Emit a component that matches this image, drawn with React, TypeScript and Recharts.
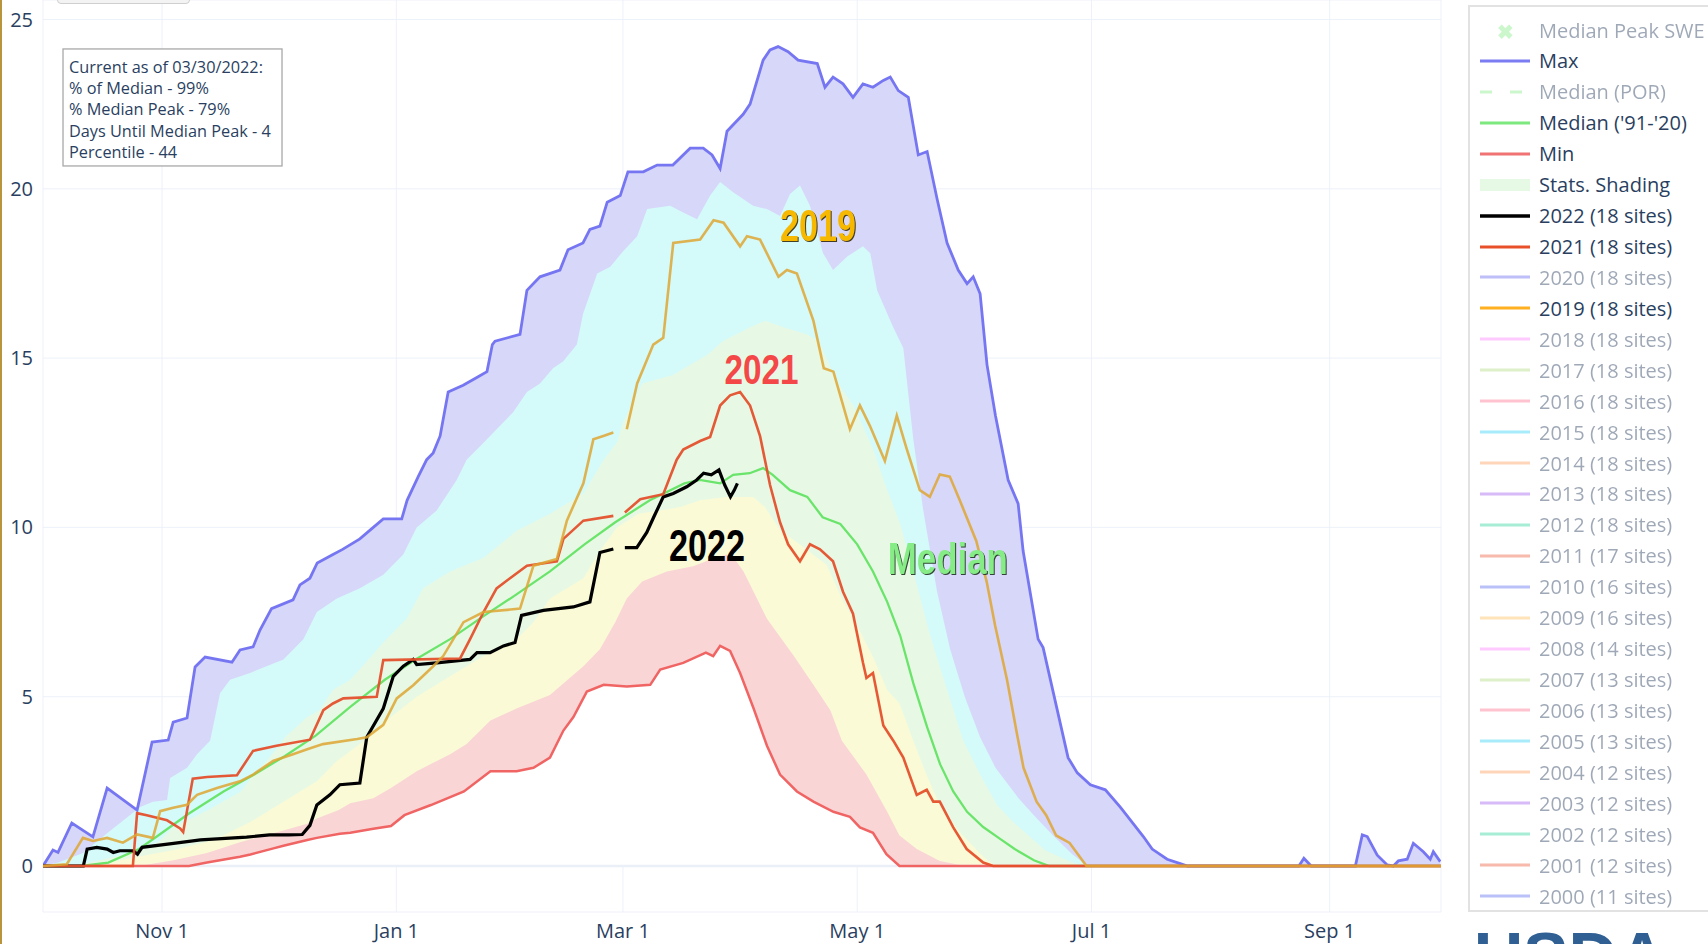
import React from 'react';
import {
  ComposedChart,
  Area,
  Line,
  XAxis,
  YAxis,
  CartesianGrid,
  ReferenceLine,
  ReferenceDot,
} from 'recharts';

// x = day of water year (Oct 1 = 0), y = SWE (in)
const tickDays = [31, 92, 151, 212, 273, 335];
const tickLabels = ['Nov 1', 'Jan 1', 'Mar 1', 'May 1', 'Jul 1', 'Sep 1'];
const yTicks = [0, 5, 10, 15, 20, 25];

const maxSwe = [
  [0, 0], [2.6, 0.47], [3.9, 0.4], [7.5, 1.27], [13, 0.86], [16.7, 2.3], [24.5, 1.65], [28.4, 3.66],
  [32.6, 3.72], [33.9, 4.25], [37.5, 4.37], [39.6, 5.88], [42.2, 6.17], [49.2, 6.02], [51.3, 6.38],
  [54.7, 6.47], [56.5, 6.97], [59.5, 7.6], [65.1, 7.86], [66.9, 8.3], [69.5, 8.5], [71.4, 8.95],
  [75.5, 9.2], [78, 9.35], [82.5, 9.66], [86, 10.0], [88.6, 10.25], [93.4, 10.25], [94.8, 10.8],
  [97.7, 11.5], [99.9, 12.0], [101.6, 12.2], [103.4, 12.7], [105.5, 14.0], [109.4, 14.2], [113.3, 14.45],
  [115.6, 14.6], [117, 15.4], [117.7, 15.5], [124.2, 15.7], [126, 17.0], [129.4, 17.4], [134.6, 17.6],
  [136.7, 18.2], [140.6, 18.4], [142.4, 18.8], [145, 18.9], [146.9, 19.6], [150.3, 19.8], [152.3, 20.5],
  [156.3, 20.5], [159.9, 20.7], [164, 20.7], [168.5, 21.2], [171.9, 21.2], [174.2, 21.0], [176.3, 20.6],
  [178.1, 21.7], [182.3, 22.2], [184.1, 22.5], [187.5, 23.8], [189.3, 24.1], [191.4, 24.2], [194, 24.05],
  [196.6, 23.8], [201.6, 23.7], [203.6, 23.0], [205.7, 23.3], [208.3, 23.1], [210.9, 22.7], [213.5, 23.1],
  [216.1, 23.0], [218.8, 23.2], [220.6, 23.3], [222.7, 22.9], [225.3, 22.7], [227.9, 21.0], [230.2, 21.1],
  [232.8, 19.7], [235.4, 18.4], [238.3, 17.6], [240.6, 17.2], [242.2, 17.4], [244, 16.9], [245.8, 14.8],
  [248, 13.3], [251.3, 11.4], [253.9, 10.7], [255.2, 9.3], [259.1, 6.7], [260.4, 6.45], [266.9, 3.2],
  [269.3, 2.75], [272.7, 2.4], [276.6, 2.25], [280.5, 1.74], [286.5, 0.87], [288.8, 0.5], [292.7, 0.2],
  [296.1, 0.07], [298, 0], [327, 0], [328.3, 0.23], [330.2, 0], [341.7, 0], [343.5, 0.92], [344.8, 0.87],
  [347.4, 0.32], [350, 0.03], [351.6, 0], [352.9, 0.15], [355.2, 0.2], [356.8, 0.67], [359.4, 0.42],
  [361.2, 0.2], [362, 0.42], [363.8, 0.13],
];

const pct90 = [
  [0, 0], [4, 0.1], [10.4, 0.38], [16.7, 0.97], [25.3, 1.74], [28.6, 1.9], [32.3, 1.95], [33.1, 2.6],
  [37.5, 2.9], [40.1, 3.3], [43.5, 3.7], [46.1, 5.1], [48.7, 5.5], [53.9, 5.7], [62.6, 6.1], [67.8, 6.7],
  [71.3, 7.5], [76.5, 7.9], [82.5, 8.2], [88.6, 8.6], [93.8, 9.2], [97.3, 10.0], [102.5, 10.5],
  [107.7, 11.4], [110.3, 12.0], [114.7, 12.5], [119, 13.0], [122.4, 13.4], [126, 14.0], [129.4, 14.25],
  [132.8, 14.7], [135.4, 14.9], [139, 15.4], [140.6, 16.3], [144.3, 17.5], [147.7, 17.7], [151, 18.15],
  [154.7, 18.6], [157.3, 19.4], [163.3, 19.5], [166.7, 19.3], [170.3, 19.1], [173.7, 19.8], [176.3, 20.2],
  [179.7, 19.9], [184.9, 19.5], [188.5, 19.4], [191.9, 19.2], [194.5, 19.85], [197.1, 20.1], [199.7, 19.5],
  [203.1, 18.1], [205.7, 17.6], [209.4, 18.0], [213.5, 18.3], [215.4, 18.1], [217.2, 17.0], [221.4, 15.9],
  [224, 15.3], [226.6, 12.6], [229.2, 10.5], [232.8, 8.1], [236.2, 6.4], [240, 5.0], [244, 3.8],
  [248, 2.9], [254, 2.0], [258, 1.5], [263, 0.9], [268, 0.35], [272, 0],
];

const pct70 = [
  [0, 0], [10, 0.05], [20, 0.3], [30, 0.7], [34, 1.15], [43, 1.65], [51.5, 2.2], [55, 2.7], [59, 3.2],
  [63, 3.8], [68.8, 4.4], [72, 4.6], [75.5, 5.2], [80, 5.5], [84, 6.0], [88.6, 6.6], [94.7, 7.3],
  [99, 8.2], [106, 8.7], [114.7, 9.1], [123.3, 9.9], [132, 10.4], [140.7, 11.0], [146, 12.0],
  [149.4, 12.5], [151, 13.1], [156, 14.25], [164, 14.5], [173, 15.1], [177, 15.5], [184, 15.9],
  [188, 16.1], [193, 15.9], [199, 15.7], [202, 15.5], [207, 14.25], [211, 13.6], [216, 12.35],
  [219.8, 11.1], [223.2, 10.1], [226.6, 8.7], [231, 6.8], [235.4, 5.2], [239.6, 3.7], [244, 2.7],
  [248.4, 1.8], [252.6, 1.3], [261, 0.46], [268, 0.1], [271, 0],
];

const pct30 = [
  [0, 0], [12, 0], [17, 0.1], [34, 0.47], [44.6, 0.77], [54, 1.3], [62.6, 1.9], [71.3, 2.5],
  [76.5, 3.1], [82.5, 3.6], [90.6, 4.4], [97.3, 5.0], [106, 5.6], [114.7, 6.2], [123.3, 6.7],
  [127.7, 7.2], [132, 7.9], [140.7, 8.5], [145, 9.3], [149.4, 10.0], [155, 10.4], [166, 10.6],
  [171, 10.8], [178, 10.9], [184.9, 10.9], [188, 10.6], [192, 9.9], [197, 9.5], [204, 8.9], [208, 7.9],
  [211, 7.3], [216, 6.2], [219.8, 5.2], [223, 4.8], [226.6, 3.7], [230, 2.7], [233.5, 1.8],
  [238.7, 1.0], [244.8, 0.27], [248, 0],
];

const pct10 = [
  [0, 0], [25, 0], [34, 0.17], [42.7, 0.38], [51.3, 0.7], [56, 0.85], [62.6, 1.05], [68.8, 1.25],
  [71.3, 1.4], [77, 1.65], [80, 1.85], [86, 2.0], [90.6, 2.3], [97.3, 2.8], [106, 3.3], [110.3, 3.6],
  [116.5, 4.3], [123.3, 4.65], [132, 5.05], [140.7, 5.9], [145, 6.4], [149, 7.2], [152, 7.9],
  [156, 8.4], [162.4, 8.7], [169.3, 8.85], [175, 9.1], [178, 9.2], [180.5, 9.0], [182.4, 8.7],
  [188.5, 7.3], [195.5, 6.2], [201.5, 5.2], [205, 4.6], [208, 3.7], [214.4, 2.7], [219.8, 1.6],
  [223, 0.9], [227.5, 0.5], [233.5, 0.15], [240, 0],
];

const minSwe = [
  [0, 0], [38, 0], [42.7, 0.1], [51.3, 0.27], [54, 0.34], [60, 0.52], [62.6, 0.6], [68.8, 0.77],
  [71.3, 0.83], [77.3, 0.95], [80, 0.98], [86, 1.1], [90.6, 1.18], [94.1, 1.5], [101, 1.8], [109.6, 2.2],
  [116.5, 2.8], [123.3, 2.8], [127.7, 2.9], [132, 3.2], [135.5, 4.0], [138.1, 4.4], [141.6, 5.15],
  [146, 5.35], [152, 5.3], [158.1, 5.35], [160.7, 5.8], [166.7, 6.0], [172.6, 6.3], [174.5, 6.2],
  [176.3, 6.5], [178.9, 6.35], [181.5, 5.7], [185, 4.66], [188.5, 3.55], [191.9, 2.7], [196.3, 2.2],
  [200.6, 1.9], [205.8, 1.6], [210.1, 1.45], [212.7, 1.14], [216.1, 0.98], [219.6, 0.35], [223, 0],
  [364, 0],
];

const medianSwe = [
  [0, 0], [10, 0], [17, 0.1], [25, 0.5], [30, 0.9], [38, 1.55], [47, 2.2], [55, 2.7], [63, 3.25],
  [71, 3.85], [80, 4.7], [89, 5.5], [97, 6.1], [106, 6.7], [115, 7.4], [123, 8.0], [132, 8.7],
  [141, 9.5], [149, 10.15], [158, 10.8], [167, 11.3], [171, 11.4], [176.3, 11.3], [179.7, 11.55],
  [184, 11.6], [187.5, 11.75], [190, 11.55], [194.5, 11.1], [199, 10.9], [203, 10.3], [207.6, 10.1],
  [212, 9.5], [216.1, 8.7], [219.8, 7.8], [223.2, 6.8], [226.6, 5.4], [230.2, 4.1], [233.6, 3.0],
  [237, 2.2], [240.6, 1.6], [244.8, 1.15], [249.2, 0.8], [253, 0.5], [258, 0.17], [262, 0], [364, 0],
];

const wy2022 = [
  [0, 0], [10.5, 0], [11.5, 0.5], [14, 0.55], [16.7, 0.5], [18.3, 0.4], [20, 0.45], [23.4, 0.45],
  [24.6, 0.35], [25.8, 0.55], [34, 0.67], [41, 0.77], [53, 0.85], [59, 0.92], [64, 0.92], [67.5, 0.93],
  [69.5, 1.2], [71.3, 1.8], [74.7, 2.1], [77.3, 2.4], [82.5, 2.45], [84.3, 3.8], [88.6, 4.65],
  [91.2, 5.6], [93.8, 5.9], [96.4, 6.1], [97.3, 5.95], [102.5, 6.0], [111.2, 6.1], [113, 6.3],
  [116.4, 6.3], [119.9, 6.5], [122.9, 6.6], [124.6, 7.4], [130.3, 7.55], [138.1, 7.65], [142.4, 7.8],
  [145, 9.26], [148.5, 9.36], [150, null], [151.5, 9.4], [154.6, 9.4], [157.2, 9.85], [159, 10.3],
  [161.5, 10.9], [164.1, 11.0], [167.6, 11.2], [170.2, 11.4], [172, 11.6], [174, 11.55], [176, 11.7],
  [177.5, 11.25], [179, 10.9], [180, 11.1], [180.8, 11.3],
];

const wy2021 = [
  [0, 0], [23.4, 0], [24.5, 1.56], [27, 1.5], [32.3, 1.35], [35.7, 1.11], [36.5, 1.0], [39, 2.58],
  [42.7, 2.63], [50.5, 2.68], [54.7, 3.4], [60.8, 3.55], [69.5, 3.73], [73, 4.6], [75.5, 4.8],
  [78.2, 4.95], [86.9, 5.0], [88.6, 6.08], [108.6, 6.13], [111.2, 6.7], [114.7, 7.5], [118.1, 8.2],
  [121.6, 8.5], [126, 8.87], [133.8, 9.0], [135.5, 9.66], [140.7, 10.2], [148.5, 10.34], [150, null],
  [151.5, 10.44], [155.5, 10.83], [161.5, 10.98], [165, 12.0], [166.7, 12.3], [171.1, 12.55],
  [173.7, 12.67], [176.3, 13.6], [178.9, 13.9], [181.5, 14.0], [184.1, 13.6], [186.7, 12.7],
  [189.3, 11.25], [191.9, 10.15], [194, 9.5], [197.1, 9.0], [199.7, 9.5], [202.3, 9.35], [205.7, 9.0],
  [208.3, 8.1], [210.9, 7.45], [213.5, 6.0], [214.4, 5.55], [216.1, 5.7], [218.8, 4.15], [221.4, 3.7],
  [224, 3.2], [227.5, 2.1], [230.1, 2.25], [231.8, 1.9], [233.5, 1.9], [237, 1.14], [240.5, 0.5],
  [244.8, 0.1], [247.4, 0], [364, 0],
];

const wy2019 = [
  [0, 0], [6.2, 0.05], [7.8, 0.35], [10.4, 0.83], [13, 0.74], [16.7, 0.83], [20.8, 0.69], [24.5, 0.93],
  [28.6, 0.83], [30.5, 1.62], [33.9, 1.72], [37.5, 1.81], [40.1, 2.1], [45.3, 2.3], [51.3, 2.5],
  [54.7, 2.7], [59.9, 3.1], [65.1, 3.3], [68.8, 3.45], [72.9, 3.6], [81.8, 3.75], [84.3, 3.8],
  [88.6, 4.17], [92.1, 4.95], [96.4, 5.34], [101.6, 5.9], [104.2, 6.2], [109.5, 7.2], [114.7, 7.5],
  [124.2, 7.6], [127.7, 8.87], [133.8, 9.07], [136.4, 10.2], [140.7, 11.3], [143.3, 12.6], [145.9, 12.7],
  [148.5, 12.8], [150, null], [152, 12.9], [154.7, 14.25], [158.9, 15.4], [161.5, 15.6], [164.1, 18.4],
  [171.1, 18.5], [174.6, 19.07], [177.2, 19.0], [181.5, 18.3], [183.3, 18.6], [186.7, 18.5],
  [191.5, 17.4], [193.7, 17.6], [196.3, 17.5], [200.6, 16.1], [203.3, 14.7], [205.8, 14.6],
  [210.1, 12.9], [212.7, 13.6], [215.3, 13.0], [219.2, 11.96], [222.3, 13.3], [224.8, 12.35],
  [228.3, 11.1], [230.9, 10.9], [233.5, 11.56], [236.1, 11.5], [238.7, 10.8], [243, 9.6], [245.7, 8.4],
  [247.9, 7.1], [251, 5.5], [253.6, 3.9], [255.3, 2.9], [258.7, 1.9], [261.2, 1.5], [263.8, 0.9],
  [267.3, 0.68], [271.7, 0], [364, 0],
];

const infoLines = [
  'Current as of 03/30/2022:',
  '% of Median - 99%',
  '% Median Peak - 79%',
  'Days Until Median Peak - 4',
  'Percentile - 44',
];

// legend
const legendLabels = ['Median Peak SWE', 'Max', 'Median (POR)', "Median ('91-'20)", 'Min', 'Stats. Shading'];
const legendKinds = ['marker', 'line', 'dash', 'line', 'line', 'rect'];
const legendColors = ['#90ee90', '#7b7bf2', '#90ee90', '#7de87d', '#f07272', '#e6f9e4'];
const legendActive = [false, true, false, true, true, true];
const legendYears = [2022, 2021, 2020, 2019, 2018, 2017, 2016, 2015, 2014, 2013, 2012, 2011, 2010, 2009, 2008, 2007, 2006, 2005, 2004, 2003, 2002, 2001, 2000];
const legendSites = [18, 18, 18, 18, 18, 18, 18, 18, 18, 18, 18, 17, 16, 16, 14, 13, 13, 13, 12, 12, 12, 12, 11];
const legendYearColors = ['#000000', '#e8502a', '#7070f0', '#ffb020', '#ff8cff', '#b4e08c', '#ff7c98', '#40d4f4', '#ffa468', '#a868f0', '#3ed8a4', '#f06848', '#6878f0', '#ffc468', '#ff8cff', '#b4e08c', '#ff7c98', '#40d4f4', '#ffa468', '#a868f0', '#3ed8a4', '#f06848', '#6878f0'];
const legendYearActive = [true, true, false, true, false, false, false, false, false, false, false, false, false, false, false, false, false, false, false, false, false, false, false];

const toPts = (arr: (number | null)[][]) => arr.map(([d, v]) => ({ d, v }));

const bands = [
  { name: 'max', values: maxSwe, fill: '#d7d7f9' },
  { name: 'p90', values: pct90, fill: '#d5fafa' },
  { name: 'p70', values: pct70, fill: '#e7f9e5' },
  { name: 'p30', values: pct30, fill: '#fafad6' },
  { name: 'p10', values: pct10, fill: '#f9d5d5' },
  { name: 'min', values: minSwe, fill: '#ffffff' },
];

const TXT = '#2a3f5f';
const FONT = '"Open Sans", sans-serif';
const BOLD = '"Liberation Sans", Arial, sans-serif';

// plotly-style big labels; squeezed to the narrow look of the original
const annotation = (text: string, fill: string, size: number, width: number, shadow?: string) => (p: any) => (
  <text
    x={p.cx}
    y={p.cy}
    textAnchor="middle"
    dominantBaseline="central"
    fontFamily={BOLD}
    fontWeight="bold"
    fontSize={size}
    fill={fill}
    textLength={width}
    lengthAdjust="spacingAndGlyphs"
    style={shadow ? { filter: `drop-shadow(1.5px 1.5px 0.6px ${shadow})` } : undefined}
  >
    {text}
  </text>
);

const infoBox = (p: any) => (
  <g>
    <rect x={p.cx} y={p.cy} width={219} height={117} fill="#fff" stroke="#a8a8a8" strokeWidth={1.3} />
    {infoLines.map((t, i) => (
      <text key={i} x={p.cx + 6} y={p.cy + 18 + i * 21.2} dominantBaseline="central" fontFamily={FONT} fontSize={16.3} fill={TXT}>
        {t}
      </text>
    ))}
  </g>
);

const LegendSymbol = ({ kind, color, width }: { kind: string; color: string; width: number }) => (
  <svg width={50} height={20} style={{ display: 'block' }}>
    {kind === 'marker' && (
      <text x={25} y={11} textAnchor="middle" dominantBaseline="central" fontSize={20} fontWeight="bold" fill={color}>✖</text>
    )}
    {kind === 'line' && <line x1={0} x2={50} y1={10} y2={10} stroke={color} strokeWidth={width} />}
    {kind === 'dash' && <line x1={0} x2={50} y1={10} y2={10} stroke={color} strokeWidth={3} strokeDasharray="12 18" />}
    {kind === 'rect' && <rect x={0} y={4} width={50} height={12} fill={color} />}
  </svg>
);

const LegendRow = ({ i, kind, color, label, active, width }: any) => (
  <div
    style={{
      position: 'absolute',
      left: 0,
      top: 7.5 + i * 30.93,
      height: 31,
      width: 300,
      display: 'flex',
      alignItems: 'center',
      opacity: active ? 1 : 0.45,
    }}
  >
    <div style={{ marginLeft: 10, width: 50 }}>
      <LegendSymbol kind={kind} color={color} width={width} />
    </div>
    <span style={{ marginLeft: 9, fontFamily: FONT, fontSize: 20, color: TXT, whiteSpace: 'nowrap' }}>{label}</span>
  </div>
);

export default function App() {
  const yearLines = [
    { data: wy2022, color: '#000000', width: 3.2, opacity: 1 },
    { data: wy2021, color: '#e4502c', width: 2.6, opacity: 0.95 },
    { data: wy2019, color: '#dea632', width: 2.6, opacity: 0.85 },
  ];
  return (
    <div
      style={{
        position: 'absolute',
        left: 0,
        top: 0,
        width: 1708,
        height: 944,
        overflow: 'hidden',
        background: '#fff',
        fontFamily: FONT,
      }}
    >
      <ComposedChart width={1708} height={944} margin={{ top: 0, right: 267, bottom: 0, left: 0 }}>
        <XAxis
          type="number"
          dataKey="d"
          domain={[0, 364]}
          ticks={tickDays}
          tickFormatter={(d: number) => tickLabels[tickDays.indexOf(d)]}
          allowDataOverflow
          axisLine={false}
          tickLine={false}
          tickSize={0}
          tickMargin={12}
          height={32}
          tick={{ fontSize: 20, fill: TXT, fontFamily: FONT }}
        />
        <YAxis
          type="number"
          domain={[-1.359, 25.576]}
          ticks={yTicks}
          allowDataOverflow
          axisLine={false}
          tickLine={false}
          tickSize={0}
          tickMargin={10}
          width={43}
          tick={{ fontSize: 20, fill: TXT, fontFamily: FONT }}
        />
        {bands.map((b) => (
          <Area
            key={b.name}
            data={toPts(b.values)}
            dataKey="v"
            type="linear"
            stroke="none"
            fill={b.fill}
            fillOpacity={1}
            isAnimationActive={false}
          />
        ))}
        <CartesianGrid stroke="#EBF0F8" strokeWidth={1} strokeOpacity={0.9} />
        <ReferenceLine y={0} stroke="#EBF0F8" strokeWidth={2.5} />

        <Line data={toPts(maxSwe)} dataKey="v" type="linear" stroke="#7676f2" strokeWidth={2.8} dot={false} isAnimationActive={false} />
        <Line data={toPts(medianSwe)} dataKey="v" type="linear" stroke="#6ae46a" strokeWidth={2.3} dot={false} isAnimationActive={false} />
        <Line data={toPts(minSwe)} dataKey="v" type="linear" stroke="#f06464" strokeWidth={2.5} dot={false} isAnimationActive={false} />
        {yearLines.map((l, i) => (
          <Line
            key={i}
            data={toPts(l.data)}
            dataKey="v"
            type="linear"
            stroke={l.color}
            strokeOpacity={l.opacity}
            strokeWidth={l.width}
            dot={false}
            isAnimationActive={false}
          />
        ))}

        <ReferenceDot x={201.8} y={18.92} r={1} fill="none" stroke="none" shape={annotation('2019', '#f7b900', 44, 76, 'rgba(40,30,0,0.85)')} />
        <ReferenceDot x={187.1} y={14.67} r={1} fill="none" stroke="none" shape={annotation('2021', '#f44848', 42, 74)} />
        <ReferenceDot x={172.9} y={9.46} r={1} fill="none" stroke="none" shape={annotation('2022', '#000000', 44, 76)} />
        <ReferenceDot x={235.6} y={9.09} r={1} fill="none" stroke="none" shape={annotation('Median', '#86ec86', 44, 120, 'rgba(20,40,20,0.85)')} />
        <ReferenceDot x={5.21} y={24.13} r={1} fill="none" stroke="none" shape={infoBox} />
      </ComposedChart>

      {/* legend */}
      <div
        style={{
          position: 'absolute',
          left: 1468,
          top: 5,
          width: 300,
          height: 903,
          border: '2px solid #e2e2e2',
          background: '#fff',
        }}
      >
        {legendLabels.map((label, i) => (
          <LegendRow key={label} i={i} kind={legendKinds[i]} color={legendColors[i]} label={label} active={legendActive[i]} width={3} />
        ))}
        {legendYears.map((y, j) => (
          <LegendRow
            key={y}
            i={legendLabels.length + j}
            kind="line"
            color={legendYearColors[j]}
            label={`${y} (${legendSites[j]} sites)`}
            active={legendYearActive[j]}
            width={j === 0 ? 3.5 : 3}
          />
        ))}
      </div>

      {/* page decorations */}
      <div style={{ position: 'absolute', left: 0, top: 0, width: 2, height: 944, background: '#b8943c' }} />
      <div
        style={{
          position: 'absolute',
          left: 57,
          top: -20,
          width: 131,
          height: 22,
          border: '1px solid #cfcfcf',
          borderRadius: 4,
          background: '#f3f3f3',
        }}
      />
      <div
        style={{
          position: 'absolute',
          left: 1474,
          top: 922,
          fontFamily: BOLD,
          fontWeight: 'bold',
          fontSize: 68,
          lineHeight: 1,
          color: '#2f5f93',
        }}
      >
        USDA
      </div>
    </div>
  );
}
